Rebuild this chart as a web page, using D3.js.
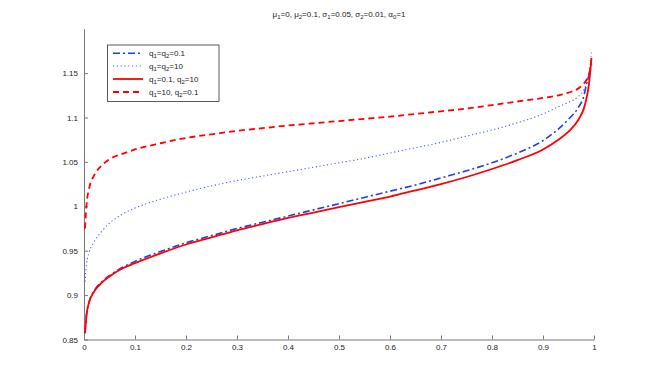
<!DOCTYPE html>
<html><head><meta charset="utf-8">
<script src="https://cdn.jsdelivr.net/npm/d3@7"></script>
<style>body{margin:0;background:#fff}svg{display:block}text{font-family:"Liberation Sans",Arial,sans-serif}</style>
</head><body>
<script>
const titleText = "\u03bc_1=0, \u03bc_2=0.1, \u03c3_1=0.05, \u03c3_2=0.01, \u03b1_0=1";
const pValues = [0.002,0.005,0.01,0.02,0.035,0.05,0.075,0.1,0.15,0.2,0.25,0.3,0.35,0.4,0.45,0.5,0.55,0.6,0.65,0.7,0.75,0.8,0.85,0.9,0.93,0.95,0.97,0.98,0.985,0.99,0.995];
const seriesA = [0.857,0.878,0.892,0.905,0.915,0.922,0.931,0.938,0.949,0.959,0.967,0.975,0.982,0.989,0.996,1.003,1.010,1.017,1.024,1.032,1.040,1.049,1.060,1.074,1.087,1.098,1.112,1.124,1.137,1.148,1.165];
const seriesB = [0.915,0.935,0.948,0.960,0.972,0.981,0.991,0.998,1.008,1.016,1.023,1.029,1.034,1.039,1.044,1.049,1.054,1.060,1.066,1.072,1.079,1.086,1.094,1.104,1.112,1.117,1.124,1.131,1.137,1.148,1.173];
const seriesC = [0.857,0.878,0.892,0.904,0.914,0.921,0.930,0.936,0.947,0.957,0.965,0.973,0.980,0.987,0.993,0.999,1.005,1.011,1.018,1.025,1.033,1.042,1.052,1.064,1.075,1.084,1.098,1.110,1.121,1.137,1.167];
const seriesD = [0.975,1.002,1.020,1.035,1.046,1.053,1.059,1.064,1.071,1.077,1.081,1.085,1.088,1.091,1.0935,1.096,1.0985,1.101,1.104,1.107,1.110,1.114,1.118,1.122,1.125,1.128,1.133,1.138,1.142,1.148,1.160];
const seriesLabels = ["q_1=q_2=0.1","q_1=q_2=10","q_1=0.1, q_2=10","q_1=10, q_2=0.1"];
const xTicks = [0,0.1,0.2,0.3,0.4,0.5,0.6,0.7,0.8,0.9,1];
const yTicks = [0.85,0.9,0.95,1,1.05,1.1,1.15];

const W=654,H=382;
const svg=d3.select("body").append("svg").attr("width",W).attr("height",H);
svg.append("rect").attr("width",W).attr("height",H).attr("fill","#fff");
const x=d3.scaleLinear().domain([0,1]).range([84,594]);
const y=d3.scaleLinear().domain([0.85,1.2]).range([339.5,28.7]);

function richText(sel,str){
  const parts=str.split(/(_.)/).filter(p=>p);
  let lowered=false;
  parts.forEach(p=>{
    if(p[0]==="_"){
      sel.append("tspan").attr("dy",2.2).attr("font-size","0.75em").text(p[1]);
      lowered=true;
    } else {
      const ts=sel.append("tspan").text(p);
      if(lowered){ ts.attr("dy",-2.2); lowered=false; }
    }
  });
}

const styles=[
  {color:"#1f3cf0",width:1.6,dash:"7,3,2,3"},
  {color:"#4a5cff",width:1.1,dash:"1.2,2.6"},
  {color:"#ff0000",width:1.8,dash:null},
  {color:"#ff0000",width:1.8,dash:"6,4"}
];
const allSeries=[seriesA,seriesB,seriesC,seriesD];
const line=d3.line().x(d=>x(d[0])).y(d=>y(d[1])).curve(d3.curveMonotoneX);

// axes
const gx=svg.append("g").attr("transform","translate(0,339.5)")
  .call(d3.axisBottom(x).tickValues(xTicks).tickSizeInner(-4).tickSizeOuter(0).tickPadding(6).tickFormat(d3.format("")));
const gy=svg.append("g").attr("transform","translate(84,0)")
  .call(d3.axisLeft(y).tickValues(yTicks).tickSizeInner(-4).tickSizeOuter(0).tickPadding(6).tickFormat(d3.format("")));
[gx,gy].forEach(g=>{
  g.select(".domain").attr("stroke","#777").attr("stroke-width",1);
  g.selectAll(".tick line").attr("stroke","#777");
  g.selectAll(".tick text").attr("fill","#222").attr("font-size",8).attr("font-family","Liberation Sans, Arial, sans-serif");
});
gx.selectAll(".tick text").attr("dy","0.5em");

// lines
allSeries.forEach((s,i)=>{
  const data=pValues.map((p,j)=>[p,s[j]]);
  const path=svg.append("path").datum(data).attr("d",line).attr("fill","none")
    .attr("stroke",styles[i].color).attr("stroke-width",styles[i].width);
  if(styles[i].dash) path.attr("stroke-dasharray",styles[i].dash);
});

// title
const t=svg.append("text").attr("x",339).attr("y",17).attr("text-anchor","middle").attr("font-size",8).attr("fill","#222");
richText(t,titleText);

// legend
const lg=svg.append("g");
lg.append("rect").attr("x",107.5).attr("y",45).attr("width",111.5).attr("height",56.5).attr("fill","#fff").attr("stroke","#333").attr("stroke-width",0.8);
const rowY=[53.3,66,79,92];
seriesLabels.forEach((lab,i)=>{
  const l=lg.append("line").attr("x1",113).attr("x2",143).attr("y1",rowY[i]).attr("y2",rowY[i])
    .attr("stroke",styles[i].color).attr("stroke-width",styles[i].width);
  if(styles[i].dash) l.attr("stroke-dasharray",styles[i].dash);
  const tx=lg.append("text").attr("x",149).attr("y",rowY[i]+2.5).attr("font-size",8).attr("fill","#222");
  richText(tx,lab);
});
</script>
</body></html>
